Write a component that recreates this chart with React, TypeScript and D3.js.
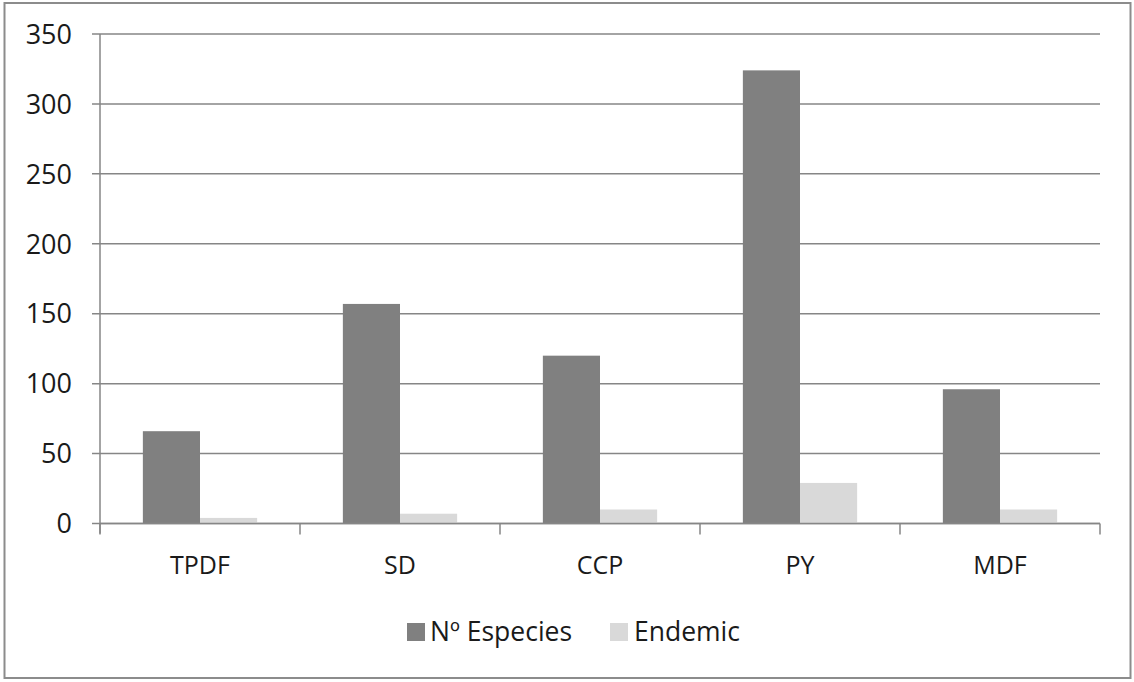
import * as d3 from 'd3';

const categories = ['TPDF', 'SD', 'CCP', 'PY', 'MDF'];
const seriesNames = ['Nº Especies', 'Endemic'];
const especies = [66, 157, 120, 324, 96];
const endemic = [4, 7, 10, 29, 10];
const yTicks = [0, 50, 100, 150, 200, 250, 300, 350];
const seriesColors = ['#808080', '#d9d9d9'];

const W = 1134;
const H = 682;
const font = '"Open Sans", "DejaVu Sans", sans-serif';

const App = () => {
    const left = 100, right = 1100, top = 34, bottom = 523.5;

    const x = d3.scaleBand<string>().domain(categories).range([left, right]);
    const y = d3.scaleLinear().domain([0, 350]).range([bottom, top]);

    // Excel style: gap width 150% -> two bars + 1.5 bar widths per band
    const barW = x.bandwidth() / 3.5;
    const offset = (x.bandwidth() - 2 * barW) / 2;
    const values = [especies, endemic];

    const boundaries = [...categories.map(c => x(c) as number), right];

    return (
        <div style={{position: 'fixed', left: 0, top: 0}}>
            <svg width={W} height={H} style={{display: 'block'}}>
                <rect x={0} y={0} width={W} height={H} fill="#fff" />
                <rect x={4.5} y={3} width={1126} height={675} fill="none" stroke="#8c8c8c" strokeWidth={2} />

                {/* gridlines */}
                {yTicks.map(t => (
                    <line key={t} x1={left - 8} x2={right} y1={y(t)} y2={y(t)} stroke="#868686" strokeWidth={1.5} />
                ))}

                {/* bars */}
                {values.map((vals, s) => (
                    <g key={s}>
                        {vals.map((v, i) => (
                            <rect key={i}
                                  x={(x(categories[i]) as number) + offset + s * barW}
                                  y={y(v)}
                                  width={barW}
                                  height={y(0) - y(v)}
                                  fill={seriesColors[s]} />
                        ))}
                    </g>
                ))}

                {/* axes */}
                <line x1={left} x2={left} y1={top} y2={bottom + 10} stroke="#868686" strokeWidth={1.5} />
                <line x1={left} x2={right} y1={y(0)} y2={y(0)} stroke="#868686" strokeWidth={1.5} />
                {boundaries.map((b, i) => (
                    <line key={i} x1={b} x2={b} y1={y(0)} y2={y(0) + 11} stroke="#868686" strokeWidth={1.5} />
                ))}

                {/* y tick labels */}
                {yTicks.map(t => (
                    <text key={t} x={72} y={y(t)} dy="0.36em" textAnchor="end" fontFamily={font} fontSize={27} fill="#1a1a1a">{t}</text>
                ))}

                {/* category labels */}
                {categories.map(c => (
                    <text key={c} x={(x(c) as number) + x.bandwidth() / 2} y={574} textAnchor="middle" fontFamily={font} fontSize={25} fill="#1a1a1a">{c}</text>
                ))}

                {/* legend */}
                <g>
                    <rect x={407} y={623} width={18} height={18} fill={seriesColors[0]} />
                    <text x={430} y={641} fontFamily={font} fontSize={26.5} fill="#1a1a1a">{seriesNames[0]}</text>
                    <rect x={610} y={623} width={18} height={18} fill={seriesColors[1]} />
                    <text x={634} y={641} fontFamily={font} fontSize={26.5} fill="#1a1a1a">{seriesNames[1]}</text>
                </g>
            </svg>
        </div>
    );
};

export default App;
